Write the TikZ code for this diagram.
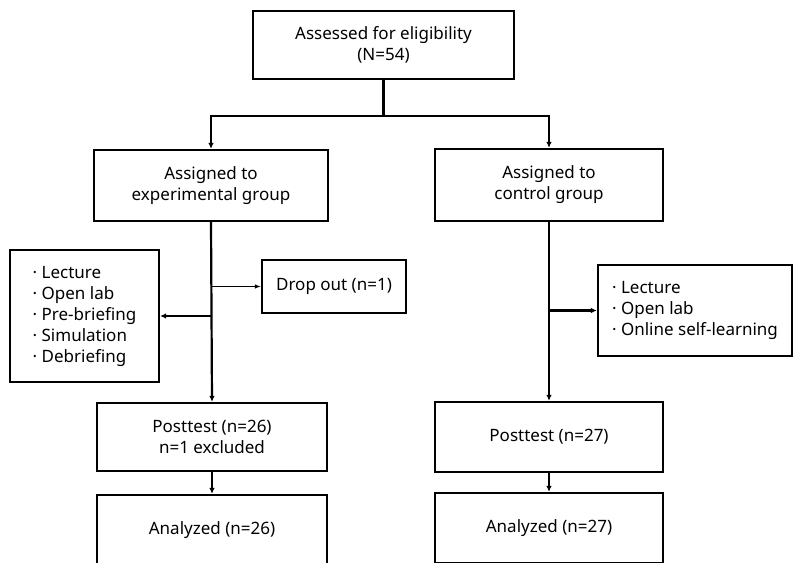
\documentclass[tikz,border=0pt]{standalone}
\usepackage{fontspec}
\setmainfont{Noto Sans}
\usetikzlibrary{arrows.meta,%
                shapes,positioning}

\begin{document}
\begin{tikzpicture}[
x=1pt, y=-1pt,
font=\fontsize{17}{21}\selectfont,
box/.style={rectangle,draw,line width=2.2pt,inner sep=0pt,align=center},
list/.style={rectangle,draw,line width=2.2pt,inner sep=0pt,align=left},
link/.style={line width=2.2pt,-{Latex[length=6pt,width=5.5pt]}},
thinlink/.style={line width=1.1pt,-{Latex[length=6pt,width=4.5pt]}}]
\path[use as bounding box,clip] (0,0) rectangle (794,562);
\fill[white] (0,0) rectangle (794,562);
\node [box,minimum width=261pt,minimum height=68pt] (elig) at (383.5,45)
	{Assessed for eligibility\\(N=54)};
\node [box,minimum width=234pt,minimum height=71pt] (exp) at (211,185.5)
	{Assigned to\\experimental group};
\node [box,minimum width=228pt,minimum height=72pt] (ctl) at (549,185)
	{Assigned to\\control group};
\node [list,minimum width=149pt,minimum height=132pt] (explist) at (84.5,316)
	{· Lecture\\· Open lab\\· Pre-briefing\\· Simulation\\· Debriefing};
\node [box,minimum width=144pt,minimum height=53pt] (drop) at (334,286.5)
	{Drop out (n=1)};
\node [list,minimum width=194pt,minimum height=91pt] (ctllist) at (695,310.5)
	{· Lecture\\· Open lab\\· Online self-learning};
\node [box,minimum width=230pt,minimum height=68pt] (exppost) at (212,437)
	{Posttest (n=26)\\n=1 excluded};
\node [box,minimum width=228pt,minimum height=70pt] (ctlpost) at (549,437)
	{Posttest (n=27)};
\node [box,minimum width=230pt,minimum height=70pt] (expana) at (212,530)
	{Analyzed (n=26)};
\node [box,minimum width=228pt,minimum height=70pt] (ctlana) at (549,528)
	{Analyzed (n=27)};
% split below the first box
\draw [line width=2.2pt] (elig.south) -- ++(0,36) coordinate (split);
\draw [link] (split) -| (exp.north);
\draw [link] (split) -| (ctl.north);
% experimental branch
\draw [link] (exp.south) -- (exppost.north);
\draw [thinlink] (exp.south |- drop.west) -- (drop.west);
\draw [link] (exp.south |- explist.east) -- (explist.east);
\draw [link] (exppost.south) -- (expana.north);
% control branch
\draw [link] (ctl.south) -- (ctlpost.north);
\draw [link] (ctl.south |- ctllist.west) -- (ctllist.west);
\draw [link] (ctlpost.south) -- (ctlana.north);
\end{tikzpicture}
\end{document}
